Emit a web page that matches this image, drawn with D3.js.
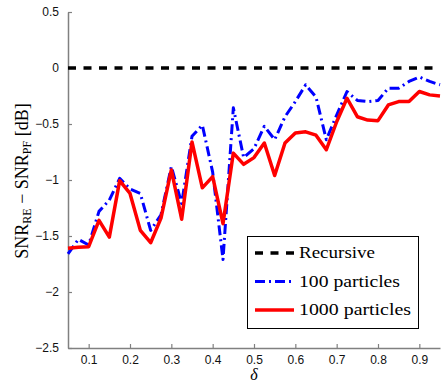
<!DOCTYPE html>
<html>
<head>
<meta charset="utf-8">
<script src="https://cdn.jsdelivr.net/npm/d3@7"></script>
<style>
  body { margin: 0; background: #fff; }
  svg { display: block; }
</style>
</head>
<body>
<div id="chart"></div>
<script>
// delta values (x) and SNR differences
const delta = [0.05, 0.075, 0.1, 0.125, 0.15, 0.175, 0.2, 0.225, 0.25, 0.275,
  0.3, 0.325, 0.35, 0.375, 0.4, 0.425, 0.45, 0.475, 0.5, 0.525,
  0.55, 0.575, 0.6, 0.625, 0.65, 0.675, 0.7, 0.725, 0.75, 0.775,
  0.8, 0.825, 0.85, 0.875, 0.9, 0.925, 0.95];

const recursive = delta.map(() => 0);

const pf100 = [-1.66, -1.53, -1.58, -1.28, -1.18, -0.985, -1.08, -1.12, -1.45, -1.31,
  -0.88, -1.21, -0.61, -0.51, -0.93, -1.71, -0.355, -0.80, -0.72, -0.52,
  -0.64, -0.435, -0.30, -0.15, -0.26, -0.64, -0.42, -0.21, -0.29, -0.30,
  -0.29, -0.18, -0.18, -0.12, -0.08, -0.12, -0.15];

const pf1000 = [-1.61, -1.60, -1.595, -1.36, -1.51, -1.006, -1.12, -1.45, -1.56, -1.34,
  -0.91, -1.35, -0.66, -1.07, -0.97, -1.39, -0.76, -0.86, -0.80, -0.67,
  -0.96, -0.67, -0.58, -0.57, -0.60, -0.73, -0.48, -0.27, -0.435, -0.465,
  -0.47, -0.33, -0.30, -0.30, -0.21, -0.24, -0.25];

const xTicks = [0.1, 0.2, 0.3, 0.4, 0.5, 0.6, 0.7, 0.8, 0.9];
const yTicks = [0.5, 0, -0.5, -1, -1.5, -2, -2.5];

const legendLabels = ["Recursive", "100 particles", "1000 particles"];

const width = 447, height = 382;
const margin = {top: 12, right: 7, bottom: 34, left: 68};
const serif = "'Liberation Serif', 'Times New Roman', serif";
const sans = "'Liberation Sans', Arial, sans-serif";

const svg = d3.select('#chart')
  .append('svg')
  .attr('width', width)
  .attr('height', height);

const x = d3.scaleLinear().domain([0.05, 0.95]).range([margin.left, width - margin.right]);
const y = d3.scaleLinear().domain([-2.5, 0.5]).range([height - margin.bottom, margin.top]);

const fmt = d => d3.format('')(d).replace('-', '\u2212');

// axes - ticks point inward, grey like matlab
const axisColor = '#808080';
const xAxis = svg.append('g')
  .attr('transform', `translate(0,${y(-2.5)})`)
  .call(d3.axisBottom(x).tickValues(xTicks).tickSizeInner(-4).tickSizeOuter(0).tickPadding(9).tickFormat(fmt));
const yAxis = svg.append('g')
  .attr('transform', `translate(${x(0.05)},0)`)
  .call(d3.axisLeft(y).tickValues(yTicks).tickSizeInner(-4).tickSizeOuter(0).tickPadding(9).tickFormat(fmt));

[xAxis, yAxis].forEach(g => {
  g.select('.domain').attr('stroke', axisColor).attr('stroke-width', 1.5);
  g.selectAll('.tick line').attr('stroke', axisColor).attr('stroke-width', 1.2);
  g.selectAll('.tick text')
    .attr('fill', '#111')
    .style('font-family', sans)
    .style('font-size', '12px');
});
xAxis.selectAll('.tick text').attr('dy', '0.6em');

const line = d3.line()
  .x((d, i) => x(delta[i]))
  .y(d => y(d));

const styles = [
  {data: recursive, color: '#000', width: 3.5, dash: '8,7.5'},
  {data: pf100, color: '#0000ff', width: 3, dash: '10,4,2,4'},
  {data: pf1000, color: '#ff0000', width: 3.5, dash: null}
];

styles.forEach(s => {
  svg.append('path')
    .datum(s.data)
    .attr('d', line)
    .attr('fill', 'none')
    .attr('stroke', s.color)
    .attr('stroke-width', s.width)
    .attr('stroke-dasharray', s.dash)
    .attr('stroke-linejoin', 'round');
});

// legend box
const legend = svg.append('g');
legend.append('rect')
  .attr('x', 247.5).attr('y', 236.5)
  .attr('width', 171).attr('height', 92)
  .attr('fill', '#fff')
  .attr('stroke', '#000')
  .attr('stroke-width', 1);

const textWidths = [76, 101, 112];
styles.forEach((s, i) => {
  const ly = 253 + i * 28.5;
  legend.append('line')
    .attr('x1', 255).attr('x2', 294)
    .attr('y1', ly).attr('y2', ly)
    .attr('stroke', s.color)
    .attr('stroke-width', s.width)
    .attr('stroke-dasharray', s.dash);
  legend.append('text')
    .attr('x', 299).attr('y', ly + 5)
    .attr('textLength', textWidths[i])
    .attr('lengthAdjust', 'spacingAndGlyphs')
    .style('font-family', serif)
    .style('font-size', '16px')
    .text(legendLabels[i]);
});

// axis labels
svg.append('text')
  .attr('x', x(0.5)).attr('y', 380)
  .attr('text-anchor', 'middle')
  .style('font-family', serif)
  .style('font-style', 'italic')
  .style('font-size', '16px')
  .text('\u03b4');

const ylab = svg.append('text')
  .attr('transform', `translate(28,${y(-1) + 1}) rotate(-90)`)
  .attr('text-anchor', 'middle')
  .style('font-family', serif)
  .style('font-size', '18px');
ylab.append('tspan').text('SNR');
ylab.append('tspan').attr('dy', 3).style('font-size', '12px').text('RE');
ylab.append('tspan').attr('dy', -3).text(' \u2212 SNR');
ylab.append('tspan').attr('dy', 3).style('font-size', '12px').text('PF');
ylab.append('tspan').attr('dy', -3).text(' [dB]');
</script>
</body>
</html>
